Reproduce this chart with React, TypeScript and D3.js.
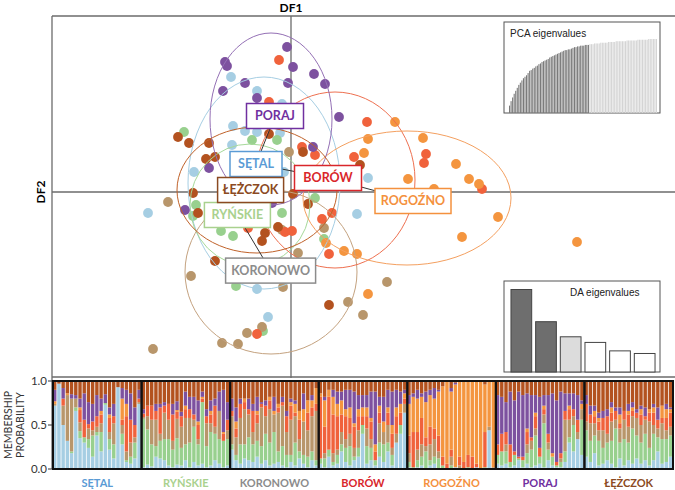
import React from "react";
import * as d3 from "d3";

const groups = ["SĘTAL", "RYŃSKIE", "KORONOWO", "BORÓW", "ROGOŹNO", "PORAJ", "ŁĘŻCZOK"];
const pointColors = ["#a6cee3", "#98d08e", "#b8966b", "#f0623c", "#f4953f", "#7d519f", "#b3521f"];
const ellipseColors = ["#a6cee3", "#a6d99a", "#c4a27f", "#ee7050", "#f4a060", "#9470b5", "#c0622a"];
const labelColors = ["#5b9bd5", "#a9d18e", "#8c8c8c", "#d9262b", "#f4913e", "#7030a0", "#8b4a22"];

// DA scores [DF1, DF2] per population
const setalPts = [[-3.0, 5.75], [-1.7, 5.05], [-0.45, 4.4], [-2.9, 3.3], [-2.3, 3.05], [-1.7, 3.0], [-0.55, 2.95], [-2.95, 2.35], [-4.85, 1.0], [-7.15, -1.05], [3.3, -1.1], [3.85, 0.7], [-1.7, -4.85], [-1.15, -6.25], [-0.35, 1.0]];
const rynskiePts = [[-5.35, 3.0], [-1.95, 2.6], [-0.7, 2.6], [-4.75, -0.65], [-4.9, -1.2], [-0.45, -1.05], [1.2, -0.3], [-3.5, -1.95], [-2.9, -2.2], [1.65, -2.35], [-2.75, -4.7], [-1.4, -6.95], [-2.35, -1.35]];
const koronowoPts = [[-0.1, 2.0], [-6.15, -0.5], [-5.0, -4.2], [-0.4, -4.75], [4.8, -4.5], [2.85, -5.5], [3.6, -6.15], [-1.45, -6.75], [-2.2, -7.05], [-3.45, -7.55], [-2.65, -7.6], [-6.9, -7.85], [0.35, -3.05], [1.65, -1.8], [-0.45, -1.9]];
const borowPts = [[-0.6, 6.6], [-1.1, 4.5], [0.55, 2.25], [1.2, 1.85], [3.8, 3.5], [3.15, 1.75], [6.75, 1.9], [6.65, 1.45], [9.55, 0.15], [2.05, -1.05], [1.55, -1.35], [1.9, -3.1], [-0.3, -2.0], [0.05, -1.95], [-2.15, -1.8], [-1.7, -7.1]];
const rogoznoPts = [[5.2, 3.5], [3.85, 2.65], [6.6, 2.7], [3.65, 1.95], [8.25, 1.4], [8.9, 0.65], [9.4, 0.4], [5.85, 0.65], [7.15, 0.15], [10.35, -1.25], [8.55, -2.25], [14.3, -2.5], [1.75, -2.55], [2.65, -2.95], [3.3, -3.1], [3.85, -5.1]];
const porajPts = [[-0.2, 7.25], [-3.3, 6.5], [-3.2, 6.3], [0.1, 6.25], [1.15, 5.9], [1.7, 5.4], [-2.3, 5.45], [-0.15, 5.45], [-3.4, 5.05], [-1.7, 4.7], [2.4, 3.75], [1.1, 2.25], [-4.1, 1.2], [-5.3, -0.9], [-0.95, -0.55]];
const lezczokPts = [[-5.65, 2.75], [-5.1, 2.45], [-1.1, 2.9], [-4.1, 2.45], [0.6, 2.0], [-4.25, 1.65], [-3.8, 1.75], [-4.9, -0.05], [0.1, -0.1], [-4.65, -1.05], [0.85, -0.6], [-0.65, -1.75], [-1.3, -2.05], [-1.45, -2.45], [-3.8, -3.45], [1.9, -5.65], [3.45, 1.35]];
const groupPts = [setalPts, rynskiePts, koronowoPts, borowPts, rogoznoPts, porajPts, lezczokPts];

// inertia ellipses [cx, cy, rx, ry]
const ellipses = [[-1.35, 0.45, 3.8, 5.3], [-2.05, -0.65, 3.0, 3.05], [-1.0, -4.0, 4.3, 4.1], [2.2, 0.6, 4.0, 4.4], [5.8, -0.3, 5.2, 3.35], [-1.0, 3.65, 3.05, 4.3], [-1.7, 0.1, 4.0, 3.15]];
// label anchors
const labelPos = [[-1.75, 1.4], [-2.68, -1.15], [-1.02, -3.93], [1.85, 0.7], [6.1, -0.45], [-0.8, 3.8], [-2.02, 0.1]];
// minimum spanning tree links between populations
const mstLinks = [[5, 0], [0, 3], [3, 4], [0, 6], [6, 1], [1, 2]];

const pcaEig = [10, 16, 21, 26, 30, 34, 38, 41, 44, 47, 49, 51, 54, 57, 58, 60, 61, 63, 64, 66, 67, 69, 70, 71, 72, 73, 75, 76, 77, 78, 79, 80, 81, 82, 83, 84, 85, 85, 86, 86, 87, 88, 89, 89, 90, 90, 91, 91, 91, 92, 92, 92, 93, 93, 93, 94, 94, 94, 94, 95, 95, 95, 95, 95, 96, 96, 96, 96, 96, 97, 97, 97, 97, 97, 97, 97, 98, 98, 98, 98, 98, 98, 98, 99, 99, 99, 99, 99, 99, 99, 100, 100, 100, 100, 100, 100];
const pcaRetained = 52;
const daEig = [82, 50, 35, 29.4, 21, 18.4];
const daFill = ["#6e6e6e", "#6e6e6e", "#dcdcdc", "#ffffff", "#ffffff", "#ffffff"];

// membership probabilities [SĘTAL, RYŃSKIE, KORONOWO, BORÓW, ROGOŹNO, PORAJ, ŁĘŻCZOK]
const memSetal = [[72,0,2,0,3,13,10],[97,0,0,0,0,0,3],[50,0,22,8,0,12,8],[32,0,52,0,2,0,14],[18,2,60,0,0,5,15],[66,4,10,0,0,4,16],[35,8,10,14,3,10,20],[30,6,0,20,0,30,14],[24,10,12,5,0,25,24],[14,24,6,10,0,20,26],[38,4,6,12,0,24,16],[20,22,10,10,4,14,20],[73,2,0,0,0,10,15],[22,12,8,16,4,8,30],[12,16,24,8,0,14,26],[93,0,0,0,0,0,7],[28,12,10,6,24,12,8],[8,2,10,40,14,16,10],[6,8,16,26,0,30,14],[12,18,6,14,0,20,30],[74,0,2,4,0,10,10]];
const memRynskie = [[2,55,2,4,0,5,32],[5,40,15,12,0,0,28],[3,25,28,16,0,0,28],[14,12,30,10,0,8,26],[12,20,8,30,0,4,26],[10,24,30,8,0,4,24],[4,30,22,18,0,0,26],[2,20,10,30,0,12,26],[5,30,22,8,2,10,23],[4,20,24,12,0,5,35],[10,18,30,10,4,16,12],[2,28,28,10,0,14,18],[8,40,8,6,0,20,18],[4,24,6,16,4,24,22],[6,70,0,4,2,6,12],[2,24,26,8,0,8,32],[4,38,10,10,4,12,22],[10,30,8,24,0,8,20],[6,28,32,0,0,22,12],[2,30,0,8,2,48,10],[4,30,10,12,0,20,24]];
const memKoronowo = [[22,6,32,6,0,14,20],[10,6,20,10,8,16,30],[6,22,30,16,0,6,20],[12,16,40,8,4,0,20],[10,26,26,6,0,12,20],[8,20,14,24,0,8,26],[14,18,20,10,4,16,18],[6,20,44,4,0,2,24],[10,30,20,12,0,6,22],[4,26,38,10,4,0,18],[6,36,20,0,4,16,18],[8,12,44,6,4,0,26],[4,22,46,4,0,6,18],[2,14,26,18,0,6,34],[8,8,40,16,4,4,20],[4,26,30,4,10,4,22],[12,8,14,22,10,0,34],[6,10,38,0,14,18,14],[2,12,30,20,14,0,22],[10,10,40,10,8,6,16],[4,6,56,8,18,0,8]];
const memBorow = [[6,6,0,70,4,0,14],[2,10,6,30,30,4,18],[14,8,0,60,8,0,10],[4,4,10,44,20,8,10],[6,10,6,38,14,14,12],[20,8,14,20,16,10,12],[8,16,10,26,8,22,10],[4,22,14,18,12,20,10],[10,4,10,24,4,36,12],[14,10,20,16,8,16,16],[40,10,0,10,10,14,16],[6,20,20,14,10,14,16],[10,14,10,20,4,30,12],[4,6,0,10,8,60,12],[14,16,22,12,8,10,18],[8,20,14,0,12,28,18],[20,10,20,14,6,20,10],[4,12,8,16,10,38,12],[30,0,10,20,10,20,10],[40,10,0,14,10,14,12],[64,0,10,6,6,4,10]];
const memRogozno = [[2,6,10,20,36,10,16],[0,2,0,40,40,4,14],[2,8,12,20,38,10,10],[4,10,14,30,24,4,14],[0,20,6,10,40,12,12],[4,6,18,20,36,6,10],[6,8,20,12,34,12,8],[0,12,8,18,50,2,10],[0,4,0,10,80,0,6],[0,0,0,6,94,0,0],[0,4,10,8,66,4,8],[2,0,0,0,94,2,2],[0,0,4,10,86,0,0],[0,0,0,8,92,0,0],[0,2,0,14,84,0,0],[0,0,0,14,86,0,0],[2,0,0,4,94,0,0],[0,0,0,0,100,0,0],[0,2,0,40,54,0,4],[44,0,4,0,52,0,0],[0,0,2,0,98,0,0]];
const memPoraj = [[6,10,0,12,0,56,16],[4,16,0,20,0,42,18],[6,14,8,14,0,34,24],[2,6,0,20,0,60,12],[4,12,0,4,0,58,22],[10,2,0,2,0,74,12],[2,8,0,4,0,70,16],[6,12,10,14,4,40,14],[2,20,10,4,0,48,16],[4,34,8,14,4,20,16],[6,8,0,10,0,58,18],[2,50,10,6,4,12,16],[10,12,8,10,0,44,16],[4,10,0,0,4,68,14],[2,2,0,4,0,70,22],[2,6,4,6,0,70,12],[8,12,36,10,0,20,14],[30,6,20,12,4,14,14],[20,30,10,8,0,18,14],[34,0,8,14,0,28,16],[16,40,12,0,6,4,22]];
const memLezczok = [[14,30,10,20,0,10,16],[8,24,20,10,0,10,28],[18,20,14,8,6,6,28],[4,28,12,10,4,6,36],[6,18,20,14,0,8,34],[10,20,10,20,0,8,32],[6,26,22,10,6,6,24],[2,44,10,10,0,4,30],[12,18,16,6,10,8,30],[4,30,22,10,0,0,34],[10,20,18,14,4,8,26],[6,40,14,6,4,6,24],[12,26,20,6,0,4,32],[6,24,20,12,6,4,28],[10,30,16,4,0,10,30],[4,20,30,10,4,0,32],[10,30,10,14,6,4,26],[20,16,10,10,0,14,30],[6,28,18,6,14,0,28],[8,26,10,14,10,6,26],[14,24,10,16,4,2,30]];
const membership = [memSetal, memRynskie, memKoronowo, memBorow, memRogozno, memPoraj, memLezczok];
const memTicks = [0, 0.5, 1];

const FONT = "Lato, 'Open Sans', sans-serif";
const ARIAL = "'Liberation Sans', Arial, sans-serif";

export default function App() {
  const x = d3.scaleLinear().domain([-11.95, 19.2]).range([52, 675]);
  const y = d3.scaleLinear().domain([-9.3, 8.8]).range([378, 16]);

  const boxW = [52, 66, 90, 67, 76, 57, 66];
  const boxH = 25;

  const gBand = d3.scaleBand<string>().domain(groups).range([53, 673]);
  const my = d3.scaleLinear().domain([0, 1]).range([469, 381]);

  const pcaX = d3.scaleBand<number>().domain(d3.range(pcaEig.length)).range([509, 657]).paddingInner(0.3);
  const pcaY = d3.scaleLinear().domain([0, 100]).range([113, 39]);
  const daX = d3.scaleBand<number>().domain(d3.range(daEig.length)).range([509, 657]).paddingInner(0.16).paddingOuter(0.08);
  const daY = d3.scaleLinear().domain([0, 82]).range([372, 289.5]);

  return (
    <svg width={675} height={490} style={{ position: "absolute", left: 0, top: 0, background: "#fff" }}>
      <rect width={675} height={490} fill="#fff" />
      <line x1={52} x2={675} y1={16} y2={16} stroke="#6b6b6b" strokeWidth={1.3} />
      <line x1={52} x2={52} y1={16} y2={469} stroke="#6b6b6b" strokeWidth={1.3} />
      <line x1={52} x2={675} y1={377} y2={377} stroke="#6b6b6b" strokeWidth={1.3} />
      <line x1={x(0)} x2={x(0)} y1={16} y2={378} stroke="#6b6b6b" strokeWidth={1.3} />
      <line x1={52} x2={675} y1={y(0)} y2={y(0)} stroke="#6b6b6b" strokeWidth={1.3} />
      <text x={x(0)} y={12} textAnchor="middle" fontFamily={FONT} fontWeight={700} fontSize={12}>DF1</text>
      <text transform={`translate(45,${y(0)}) rotate(-90)`} textAnchor="middle" fontFamily={FONT} fontWeight={700} fontSize={12}>DF2</text>

      {groupPts.map((pts, gi) =>
        pts.map((p, i) => (
          <circle key={`p${gi}-${i}`} cx={x(p[0])} cy={y(p[1])} r={4.9} fill={pointColors[gi]} />
        ))
      )}
      {ellipses.map((e, gi) => (
        <ellipse key={`e${gi}`} cx={x(e[0])} cy={y(e[1])} rx={x(e[2]) - x(0)} ry={y(0) - y(e[3])}
          fill="none" stroke={ellipseColors[gi]} strokeWidth={1} />
      ))}
      {mstLinks.map(([a, b], i) => (
        <line key={`l${i}`} x1={x(labelPos[a][0])} y1={y(labelPos[a][1])} x2={x(labelPos[b][0])} y2={y(labelPos[b][1])}
          stroke="#333" strokeWidth={1} />
      ))}
      {groups.map((g, gi) => {
        const cx = x(labelPos[gi][0]);
        const cy = y(labelPos[gi][1]);
        return (
          <g key={`lab${gi}`}>
            <rect x={cx - boxW[gi] / 2} y={cy - boxH / 2} width={boxW[gi]} height={boxH} fill="#fff"
              stroke={labelColors[gi]} strokeWidth={1.5} />
            <text x={cx} y={cy + 4.3} textAnchor="middle" fontFamily={FONT} fontWeight={700} fontSize={12.5}
              fill={labelColors[gi]}>{g}</text>
          </g>
        );
      })}

      <rect x={504} y={22} width={156} height={91} fill="#fff" stroke="#555" strokeWidth={1} />
      <text x={510} y={37} fontFamily={ARIAL} fontSize={10} fill="#222">PCA eigenvalues</text>
      {pcaEig.map((v, i) => (
        <rect key={`pca${i}`} x={pcaX(i)} y={pcaY(v)} width={pcaX.bandwidth()} height={pcaY(0) - pcaY(v)}
          fill={i < pcaRetained ? "#7a7a7a" : "#d4d4d4"} />
      ))}

      <rect x={504} y={281} width={156} height={91} fill="#fff" stroke="#555" strokeWidth={1} />
      <text x={570} y={296} fontFamily={ARIAL} fontSize={10} fill="#222">DA eigenvalues</text>
      {daEig.map((v, i) => (
        <rect key={`da${i}`} x={daX(i)} y={daY(v)} width={daX.bandwidth()} height={daY(0) - daY(v)}
          fill={daFill[i]} stroke="#444" strokeWidth={1} />
      ))}

      {groups.map((g, gi) => {
        const gx = gBand(g) as number;
        const inner = d3.scaleBand<number>().domain(d3.range(membership[gi].length)).range([gx, gx + gBand.bandwidth()]);
        return (
          <g key={`m${gi}`}>
            {membership[gi].map((row, bi) => {
              const total = d3.sum(row);
              let acc = 0;
              return row.map((v, ci) => {
                const y0 = acc / total;
                acc += v;
                const y1 = acc / total;
                if (v <= 0) return null;
                return (
                  <rect key={`m${gi}-${bi}-${ci}`} x={inner(bi)} y={my(y1)} width={inner.bandwidth() - 0.8}
                    height={my(y0) - my(y1)} fill={pointColors[ci]} />
                );
              });
            })}
          </g>
        );
      })}
      {groups.map((g, gi) => (
        <rect key={`mb${gi}`} x={gBand(g)} y={381} width={gBand.bandwidth()} height={88} fill="none" stroke="#111" strokeWidth={2} />
      ))}
      {groups.map((g, gi) => (
        <text key={`ml${gi}`} x={(gBand(g) as number) + gBand.bandwidth() / 2} y={486.5} textAnchor="middle"
          fontFamily={FONT} fontWeight={700} fontSize={11} fill={labelColors[gi]}>{g}</text>
      ))}
      {memTicks.map((t) => (
        <g key={`t${t}`}>
          <line x1={48} x2={52} y1={my(t)} y2={my(t)} stroke="#333" />
          <text x={47} y={my(t) + 4} textAnchor="end" fontFamily={FONT} fontSize={11.5} fill="#333">{t.toFixed(1)}</text>
        </g>
      ))}
      <text transform={`translate(12,${my(0.5)}) rotate(-90)`} textAnchor="middle" fontFamily={FONT} fontSize={10.5} fill="#333">MEMBERSHIP</text>
      <text transform={`translate(24,${my(0.5)}) rotate(-90)`} textAnchor="middle" fontFamily={FONT} fontSize={10.5} fill="#333">PROBABILITY</text>
    </svg>
  );
}
